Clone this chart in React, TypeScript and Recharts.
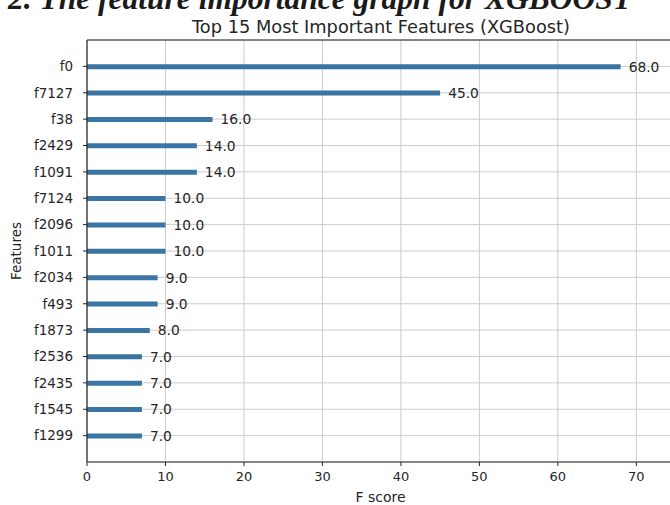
import React from "react";
import {
  BarChart,
  Bar,
  XAxis,
  YAxis,
  CartesianGrid,
  LabelList,
  ReferenceLine,
  Label,
} from "recharts";

// Feature names, listed bottom to top as they sit on the y axis
const features = [
  "f1299",
  "f1545",
  "f2435",
  "f2536",
  "f1873",
  "f493",
  "f2034",
  "f1011",
  "f2096",
  "f7124",
  "f1091",
  "f2429",
  "f38",
  "f7127",
  "f0",
];

// F score of each feature, same order as above
const fScores = [7, 7, 7, 7, 8, 9, 9, 10, 10, 10, 14, 14, 16, 45, 68];

const xTicks = [0, 10, 20, 30, 40, 50, 60, 70];

const data = features.map((name, i) => ({ name, pos: i, score: fScores[i] }));
const yTicks = data.map((d) => d.pos);

const xMax = Math.max(...fScores) * 1.1;

const FONT = "'DejaVu Sans', sans-serif";
const INK = "#262626";

export default function App() {
  return (
    <div
      style={{
        position: "absolute",
        left: 0,
        top: 0,
        width: 670,
        height: 505,
        overflow: "hidden",
        background: "#ffffff",
      }}
    >
      <svg
        width={670}
        height={40}
        style={{ position: "absolute", left: 0, top: 0 }}
      >
        <text
          x={8}
          y={9}
          fontFamily="'Liberation Serif', serif"
          fontWeight="bold"
          fontStyle="italic"
          fontSize={31.5}
          fill="#1a1a1a"
        >
          2. The feature importance graph for XGBOOST
        </text>
        <text
          x={381}
          y={33}
          textAnchor="middle"
          fontFamily={FONT}
          fontSize={17.8}
          fill={INK}
        >
          Top 15 Most Important Features (XGBoost)
        </text>
      </svg>
      <div style={{ position: "absolute", left: 0, top: 0 }}>
        <BarChart
          width={680}
          height={505}
          data={data}
          layout="vertical"
          margin={{ top: 40, right: 6, bottom: 0, left: 0 }}
        >
          <CartesianGrid stroke="#cccccc" strokeWidth={1} />
          <XAxis
            type="number"
            dataKey="score"
            domain={[0, xMax]}
            ticks={xTicks}
            allowDataOverflow
            height={43}
            tickSize={4}
            tickMargin={6}
            axisLine={{ stroke: INK, strokeWidth: 1.2 }}
            tickLine={{ stroke: INK }}
            tick={{ fontFamily: FONT, fontSize: 13, fill: INK }}
          >
            <Label
              value="F score"
              position="insideBottom"
              offset={3}
              style={{ fontFamily: FONT, fontSize: 14, fill: INK }}
            />
          </XAxis>
          <YAxis
            type="number"
            dataKey="pos"
            domain={[-1, 15]}
            reversed
            ticks={yTicks}
            interval={0}
            width={87}
            tickSize={4}
            tickMargin={10}
            tickFormatter={(v: number) => features[v] ?? ""}
            axisLine={{ stroke: INK, strokeWidth: 1.2 }}
            tickLine={{ stroke: INK }}
            tick={{ fontFamily: FONT, fontSize: 13.5, fill: INK }}
          >
            <Label
              value="Features"
              angle={-90}
              position="insideLeft"
              offset={16}
              style={{
                fontFamily: FONT,
                fontSize: 13.5,
                fill: INK,
                textAnchor: "middle",
              }}
            />
          </YAxis>
          <ReferenceLine y={15} stroke={INK} strokeWidth={1.2} />
          <Bar
            dataKey="score"
            fill="#3a75a4"
            barSize={5}
            isAnimationActive={false}
          >
            <LabelList
              dataKey="score"
              position="right"
              offset={8}
              formatter={(v: number) => Number(v).toFixed(1)}
              style={{ fontFamily: FONT, fontSize: 13.8, fill: INK }}
            />
          </Bar>
        </BarChart>
      </div>
    </div>
  );
}
